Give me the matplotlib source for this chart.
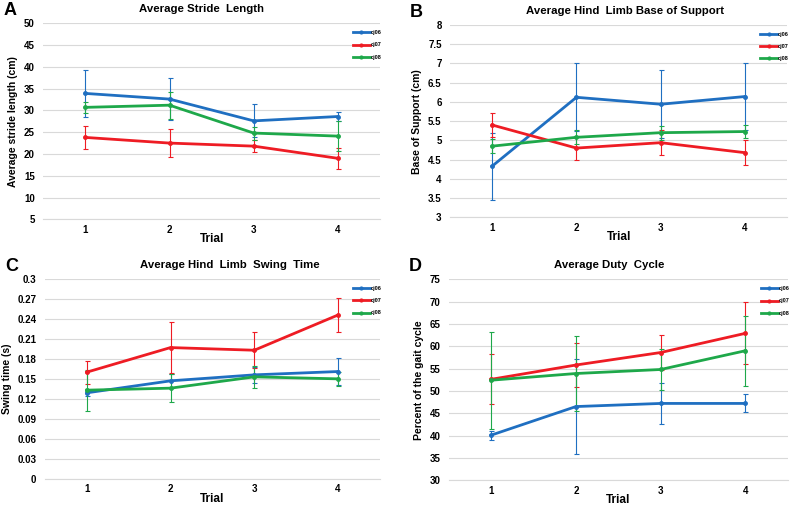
import matplotlib
matplotlib.use("Agg")
import matplotlib.pyplot as plt
import numpy as np
from matplotlib.lines import Line2D
from matplotlib.ticker import FixedLocator, FuncFormatter

plt.rcParams["font.family"] = ["Liberation Sans", "DejaVu Sans"]
plt.rcParams["font.weight"] = "bold"

trials = [1, 2, 3, 4]
series_names = ["cj06", "cj07", "cj08"]
series_colors = ["#1f6fc1", "#ee1c24", "#1ea84a"]

# A: stride length (cm)
stride_cj06 = [33.9, 32.6, 27.6, 28.6]
stride_cj06_err = [5.3, 4.8, 3.8, 1.0]
stride_cj07 = [23.8, 22.5, 21.8, 19.0]
stride_cj07_err = [2.6, 3.3, 1.4, 2.4]
stride_cj08 = [30.7, 31.2, 24.8, 24.1]
stride_cj08_err = [1.3, 3.1, 1.5, 3.5]

# B: base of support (cm)
support_cj06 = [4.33, 6.12, 5.94, 6.14]
support_cj06_err = [0.87, 0.88, 0.88, 0.87]
support_cj07 = [5.40, 4.80, 4.94, 4.68]
support_cj07_err = [0.32, 0.32, 0.32, 0.32]
support_cj08 = [4.85, 5.08, 5.20, 5.23]
support_cj08_err = [0.18, 0.18, 0.18, 0.18]

# C: swing time (s)
swing_cj06 = [0.129, 0.147, 0.156, 0.161]
swing_cj06_err = [0.005, 0.010, 0.012, 0.020]
swing_cj07 = [0.160, 0.197, 0.193, 0.246]
swing_cj07_err = [0.017, 0.038, 0.027, 0.026]
swing_cj08 = [0.133, 0.136, 0.153, 0.150]
swing_cj08_err = [0.031, 0.021, 0.017, 0.011]

# D: duty cycle (% of gait cycle)
duty_cj06 = [40.1, 46.5, 47.2, 47.2]
duty_cj06_err = [1.0, 10.7, 4.5, 2.0]
duty_cj07 = [52.6, 55.8, 58.6, 62.9]
duty_cj07_err = [5.6, 4.9, 4.0, 6.9]
duty_cj08 = [52.4, 53.9, 54.8, 59.0]
duty_cj08_err = [10.9, 8.5, 4.5, 7.8]

panels = [
    ("A", "Average Stride  Length", 0.469, "Average stride length (cm)",
     [stride_cj06, stride_cj07, stride_cj08],
     [stride_cj06_err, stride_cj07_err, stride_cj08_err],
     np.arange(5, 50.1, 5), [0.054, 0.5657, 0.421, 0.3882]),
    ("B", "Average Hind  Limb Base of Support", 0.519, "Base of Support (cm)",
     [support_cj06, support_cj07, support_cj08],
     [support_cj06_err, support_cj07_err, support_cj08_err],
     np.arange(3, 8.01, 0.5), [0.5625, 0.5697, 0.4215, 0.3808]),
    ("C", "Average Hind  Limb  Swing  Time", 0.552, "Swing time (s)",
     [swing_cj06, swing_cj07, swing_cj08],
     [swing_cj06_err, swing_cj07_err, swing_cj08_err],
     np.round(np.arange(0, 0.301, 0.03), 2), [0.056, 0.0521, 0.419, 0.3954]),
    ("D", "Average Duty  Cycle", 0.472, "Percent of the gait cycle",
     [duty_cj06, duty_cj07, duty_cj08],
     [duty_cj06_err, duty_cj07_err, duty_cj08_err],
     np.arange(30, 75.1, 5), [0.561, 0.049, 0.4238, 0.398]),
]

fig = plt.figure(figsize=(8, 5.05), dpi=100)

for letter, title, title_x, ylabel, means, errs, yticks, rect in panels:
    ax = fig.add_axes(rect)
    handles = []
    for name, color, m, e in zip(series_names, series_colors, means, errs):
        ax.errorbar(trials, m, yerr=e, color=color, lw=2.0, marker="o", ms=2.5,
                    elinewidth=0.8, capsize=1.8, capthick=0.8)
        handles.append(Line2D([], [], color=color, lw=2.0, marker="o", ms=2.0,
                              label=name))
    ax.set_xlim(0.5, 4.5)
    ax.set_ylim(yticks[0], yticks[-1])
    ax.yaxis.set_major_locator(FixedLocator(yticks))
    ax.yaxis.set_major_formatter(FuncFormatter(lambda v, p: f"{round(v, 3):g}"))
    ax.set_xticks(trials)
    ax.grid(axis="y", color="#d9d9d9", lw=0.8)
    ax.set_axisbelow(True)
    for side in ["top", "right", "left"]:
        ax.spines[side].set_visible(False)
    ax.spines["bottom"].set_color("#d9d9d9")
    ax.tick_params(length=0, labelsize=7)
    ax.tick_params(axis="x", pad=4)
    ax.tick_params(axis="y", pad=6)
    ax.set_title(title, fontsize=8.2, fontweight="bold", pad=8, x=title_x)
    ax.set_ylabel(ylabel, fontsize=7.5, fontweight="bold", labelpad=4)
    ax.set_xlabel("Trial", fontsize=8.5, fontweight="bold", labelpad=-1)
    ax.legend(handles=handles, loc="upper right", bbox_to_anchor=(1.02, 0.99),
              fontsize=4, frameon=False, handlelength=3.0, handletextpad=0.2,
              labelspacing=1.3)
    fig.text(rect[0] - 0.05, rect[1] + rect[3] + 0.025, letter,
             fontsize=13, fontweight="bold", va="center", ha="left")

fig.savefig("out.png", dpi=100)
